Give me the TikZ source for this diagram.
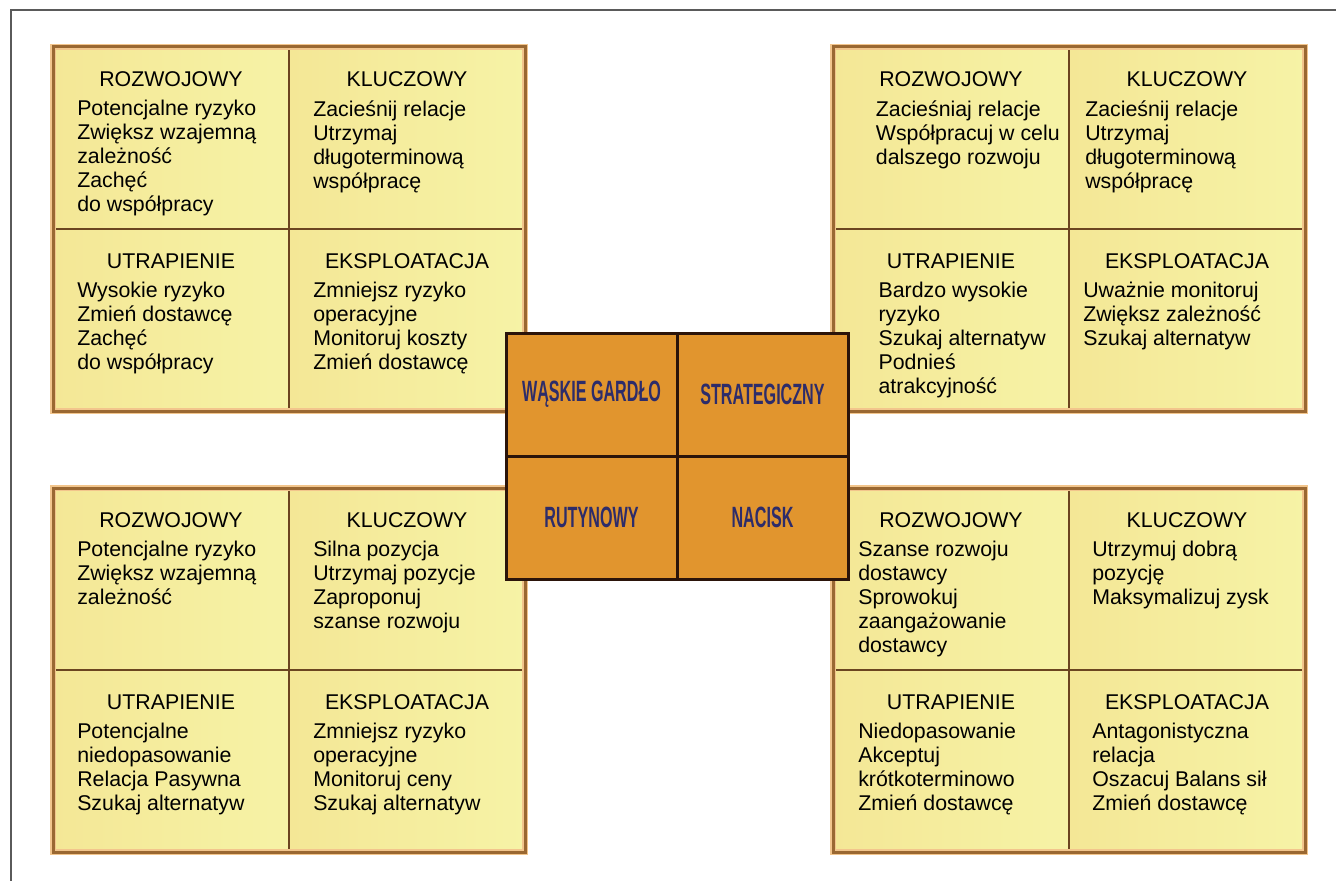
\documentclass[tikz,border=0pt]{standalone}
\usepackage{fontspec}
\setmainfont{Liberation Sans}
\newfontfamily\narrowfont[FakeStretch=0.55]{Liberation Sans}
\usetikzlibrary{positioning}

\definecolor{cellleft}{HTML}{F4E796}
\definecolor{cellright}{HTML}{F6F3A6}
\definecolor{divline}{HTML}{6B4520}
\definecolor{blockline}{HTML}{9A6832}
\definecolor{blockglow}{HTML}{F2C58C}
\definecolor{corefill}{HTML}{E1952E}
\definecolor{coreline}{HTML}{2B140A}
\definecolor{coretext}{HTML}{2D2C6A}
\definecolor{framegray}{HTML}{5A5A5A}

\begin{document}
\begin{tikzpicture}[x=0.75pt, y=-0.75pt]
    \tikzstyle{cell} = [draw=divline, line width=1.5pt, left color=cellleft, right color=cellright, rectangle, minimum width=177pt, minimum height=136.5pt, inner sep=0, outer sep=0];
    \tikzstyle{block} = [draw=blockline, line width=2.25pt];
    \tikzstyle{glow} = [draw=blockglow, line width=5pt];
    \tikzstyle{title} = [inner sep=0, text height=11.46pt, text depth=0pt, font=\fontsize{16pt}{18pt}\selectfont];
    \tikzstyle{body} = [inner sep=0, align=left, anchor=north west, font=\fontsize{16pt}{18pt}\selectfont, execute at begin node=\strut];
    \tikzstyle{core} = [draw=coreline, line width=2.25pt, fill=corefill, rectangle, minimum width=128.25pt, minimum height=92.25pt, inner sep=0, outer sep=0, text=coretext, font=\narrowfont\bfseries\fontsize{22pt}{24pt}\selectfont];
    \tikzstyle{frame} = [draw=framegray, line width=1.1pt];

    \useasboundingbox (0, 0) rectangle (1336, 881);

    \coordinate (fA) at (11, 881);
    \coordinate (fB) at (11, 10);
    \coordinate (fC) at (1336, 10);
    \draw[frame] (fA) -- (fB) -- (fC);

    % top left
    \node[cell] at (171, 138) (tlA) {};
    \node[cell, right = 0pt of tlA] (tlB) {};
    \node[cell, below = 0pt of tlA] (tlC) {};
    \node[cell, right = 0pt of tlC] (tlD) {};
    \draw[glow] (tlA.north west) rectangle (tlD.south east);
    \draw[block] (tlA.north west) rectangle (tlD.south east);

    \node[title, below = 17.8pt of tlA.north] (tlAt) {ROZWOJOWY};
    \node[body, below right = 39.9pt and 18pt of tlA.north west] (tlAb) {Potencjalne ryzyko\\Zwiększ wzajemną\\zależność\\Zachęć\\do współpracy};
    \node[title, below = 17.8pt of tlB.north] (tlBt) {KLUCZOWY};
    \node[body, below right = 39.9pt and 18pt of tlB.north west] (tlBb) {Zacieśnij relacje\\Utrzymaj\\długoterminową\\współpracę};
    \node[title, below = 17.8pt of tlC.north] (tlCt) {UTRAPIENIE};
    \node[body, below right = 39.9pt and 18pt of tlC.north west] (tlCb) {Wysokie ryzyko\\Zmień dostawcę\\Zachęć\\do współpracy};
    \node[title, below = 17.8pt of tlD.north] (tlDt) {EKSPLOATACJA};
    \node[body, below right = 39.9pt and 18pt of tlD.north west] (tlDb) {Zmniejsz ryzyko\\operacyjne\\Monitoruj koszty\\Zmień dostawcę};

    % top right
    \node[cell] at (951, 138) (trA) {};
    \node[cell, right = 0pt of trA] (trB) {};
    \node[cell, below = 0pt of trA] (trC) {};
    \node[cell, right = 0pt of trC] (trD) {};
    \draw[glow] (trA.north west) rectangle (trD.south east);
    \draw[block] (trA.north west) rectangle (trD.south east);

    \node[title, below = 17.8pt of trA.north] (trAt) {ROZWOJOWY};
    \node[body, below right = 39.9pt and 32pt of trA.north west] (trAb) {Zacieśniaj relacje\\Współpracuj w celu\\dalszego rozwoju};
    \node[title, below = 17.8pt of trB.north] (trBt) {KLUCZOWY};
    \node[body, below right = 39.9pt and 12pt of trB.north west] (trBb) {Zacieśnij relacje\\Utrzymaj\\długoterminową\\współpracę};
    \node[title, below = 17.8pt of trC.north] (trCt) {UTRAPIENIE};
    \node[body, below right = 39.9pt and 34pt of trC.north west] (trCb) {Bardzo wysokie\\ryzyko\\Szukaj alternatyw\\Podnieś\\atrakcyjność};
    \node[title, below = 17.8pt of trD.north] (trDt) {EKSPLOATACJA};
    \node[body, below right = 39.9pt and 10.5pt of trD.north west] (trDb) {Uważnie monitoruj\\Zwiększ zależność\\Szukaj alternatyw};

    % bottom left
    \node[cell] at (171, 579) (blA) {};
    \node[cell, right = 0pt of blA] (blB) {};
    \node[cell, below = 0pt of blA] (blC) {};
    \node[cell, right = 0pt of blC] (blD) {};
    \draw[glow] (blA.north west) rectangle (blD.south east);
    \draw[block] (blA.north west) rectangle (blD.south east);

    \node[title, below = 17.8pt of blA.north] (blAt) {ROZWOJOWY};
    \node[body, below right = 39.9pt and 18pt of blA.north west] (blAb) {Potencjalne ryzyko\\Zwiększ wzajemną\\zależność};
    \node[title, below = 17.8pt of blB.north] (blBt) {KLUCZOWY};
    \node[body, below right = 39.9pt and 18pt of blB.north west] (blBb) {Silna pozycja\\Utrzymaj pozycje\\Zaproponuj\\szanse rozwoju};
    \node[title, below = 17.8pt of blC.north] (blCt) {UTRAPIENIE};
    \node[body, below right = 39.9pt and 18pt of blC.north west] (blCb) {Potencjalne\\niedopasowanie\\Relacja Pasywna\\Szukaj alternatyw};
    \node[title, below = 17.8pt of blD.north] (blDt) {EKSPLOATACJA};
    \node[body, below right = 39.9pt and 18pt of blD.north west] (blDb) {Zmniejsz ryzyko\\operacyjne\\Monitoruj ceny\\Szukaj alternatyw};

    % bottom right
    \node[cell] at (951, 579) (brA) {};
    \node[cell, right = 0pt of brA] (brB) {};
    \node[cell, below = 0pt of brA] (brC) {};
    \node[cell, right = 0pt of brC] (brD) {};
    \draw[glow] (brA.north west) rectangle (brD.south east);
    \draw[block] (brA.north west) rectangle (brD.south east);

    \node[title, below = 17.8pt of brA.north] (brAt) {ROZWOJOWY};
    \node[body, below right = 39.9pt and 18.75pt of brA.north west] (brAb) {Szanse rozwoju\\dostawcy\\Sprowokuj\\zaangażowanie\\dostawcy};
    \node[title, below = 17.8pt of brB.north] (brBt) {KLUCZOWY};
    \node[body, below right = 39.9pt and 17.25pt of brB.north west] (brBb) {Utrzymuj dobrą\\pozycję\\Maksymalizuj zysk};
    \node[title, below = 17.8pt of brC.north] (brCt) {UTRAPIENIE};
    \node[body, below right = 39.9pt and 18.75pt of brC.north west] (brCb) {Niedopasowanie\\Akceptuj\\krótkoterminowo\\Zmień dostawcę};
    \node[title, below = 17.8pt of brD.north] (brDt) {EKSPLOATACJA};
    \node[body, below right = 39.9pt and 17.25pt of brD.north west] (brDb) {Antagonistyczna\\relacja\\Oszacuj Balans sił\\Zmień dostawcę};

    % centre
    \node[core] at (591.5, 394.5) (wg) {WĄSKIE GARDŁO};
    \node[core, right = 0pt of wg] (st) {STRATEGICZNY};
    \node[core, below = 0pt of wg] (ru) {RUTYNOWY};
    \node[core, right = 0pt of ru] (na) {NACISK};
\end{tikzpicture}
\end{document}
